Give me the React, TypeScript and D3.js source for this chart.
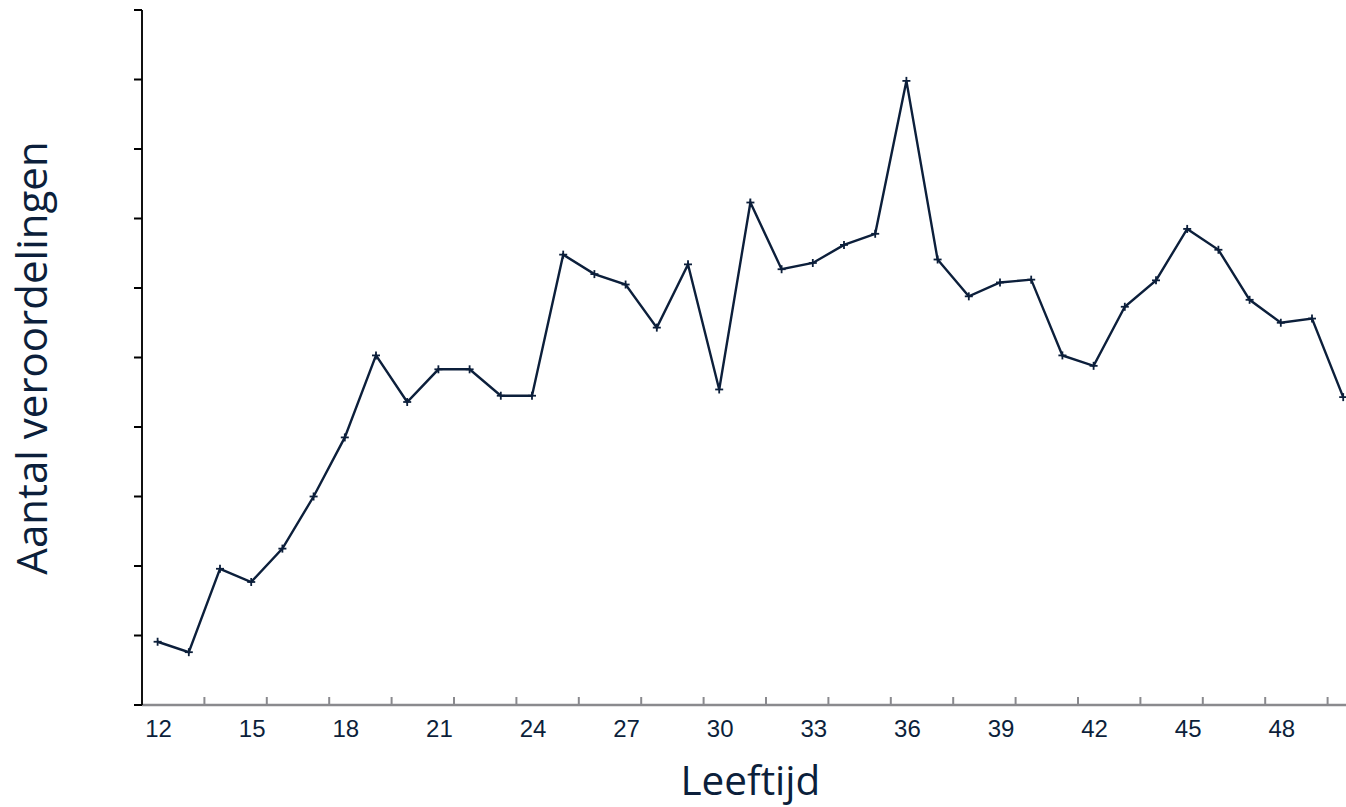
import React from "react";
import * as d3 from "d3";

const ages: number[] = [12,13,14,15,16,17,18,19,20,21,22,23,24,25,26,27,28,29,30,31,32,33,34,35,36,37,38,39,40,41,42,43,44,45,46,47,48,49,50];
const counts: number[] = [9.1,7.6,19.6,17.7,22.5,30.0,38.5,50.3,43.6,48.3,48.3,44.5,44.5,64.8,62.0,60.5,54.3,63.4,45.4,72.3,62.7,63.6,66.2,67.8,89.8,64.1,58.8,60.8,61.2,50.3,48.8,57.3,61.1,68.5,65.5,58.3,55.0,55.6,44.3];
const xLabelAges: number[] = [12,15,18,21,24,27,30,33,36,39,42,45,48];
const yTicks: number[] = [0,10,20,30,40,50,60,70,80,90,100];
const xTitle = "Leeftijd";
const yTitle = "Aantal veroordelingen";

const W = 1346, H = 807;
const left = 142, top = 10, bottom = 705;
const bandW = 31.2;
const right = left + bandW * ages.length;
const navy = "#0c1f3b";

export default function App() {
  const x = d3.scaleBand<number>().domain(ages).range([left, right]).padding(0);
  const y = d3.scaleLinear().domain([0, 100]).range([bottom, top]);
  const cx = (a: number) => (x(a) as number) + x.bandwidth() / 2;
  const line = d3.line<number>().x((_, i) => cx(ages[i])).y((v) => y(v));
  const boundaryTicks = ages.filter((_, i) => i % 2 === 0).map((a) => x(a) as number);
  boundaryTicks.push(right);
  return (
    <svg width={W} height={H} style={{ position: "absolute", left: 0, top: 0, background: "#fff" }}>
      {/* x axis */}
      <line x1={left} x2={right} y1={bottom} y2={bottom} stroke="#8a8a8e" strokeWidth={2.5} />
      {boundaryTicks.map((t, i) => (
        <line key={"xt" + i} x1={t} x2={t} y1={bottom} y2={bottom - 8} stroke="#8a8a8e" strokeWidth={2} />
      ))}
      {xLabelAges.map((a) => (
        <text key={"xl" + a} x={cx(a) + 1} y={737} textAnchor="middle" fontFamily="Liberation Sans, Arial, sans-serif" fontSize={24} fill={navy}>
          {a}
        </text>
      ))}
      {/* y axis */}
      <line x1={left} x2={left} y1={top} y2={bottom} stroke="#111" strokeWidth={2} />
      {yTicks.map((t) => (
        <line key={"yt" + t} x1={left - 8} x2={left} y1={y(t)} y2={y(t)} stroke="#000" strokeWidth={2} />
      ))}
      {/* series */}
      <path d={line(counts) || ""} fill="none" stroke={navy} strokeWidth={2.4} strokeLinejoin="miter" />
      {counts.map((v, i) => {
        const px = cx(ages[i]);
        const py = y(v);
        return (
          <g key={"m" + i} stroke={navy} strokeWidth={1.8}>
            <line x1={px - 4} x2={px + 4} y1={py} y2={py} />
            <line x1={px} x2={px} y1={py - 4} y2={py + 4} />
          </g>
        );
      })}
      {/* titles */}
      <text x={(left + right) / 2} y={795} textAnchor="middle" fontFamily="Open Sans, sans-serif" fontSize={40.5} fill={navy}>
        {xTitle}
      </text>
      <text transform={`translate(47,358) rotate(-90)`} textAnchor="middle" fontFamily="Open Sans, sans-serif" fontSize={42} fill={navy}>
        {yTitle}
      </text>
    </svg>
  );
}
